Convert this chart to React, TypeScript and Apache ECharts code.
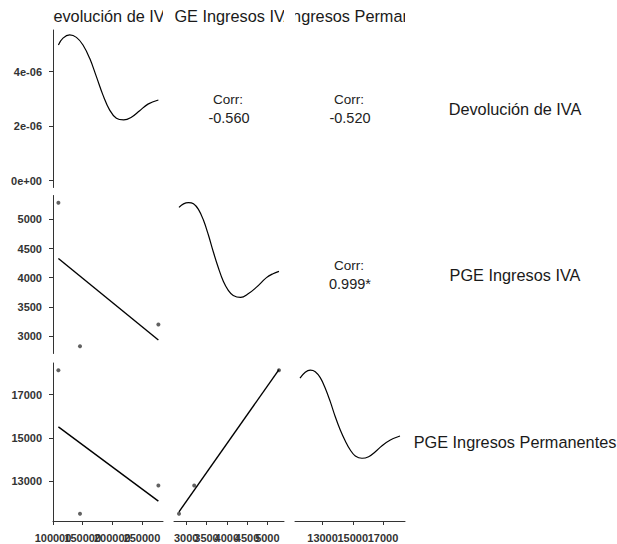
import React, { useEffect, useRef } from 'react';
import * as echarts from 'echarts';

// ---- data ----
const variables = ['Devolución de IVA', 'PGE Ingresos IVA', 'PGE Ingresos Permanentes'];
const devolucionIVA = [109100, 145500, 277600];
const ingresosIVA = [5286, 2822, 3197];
const ingresosPermanentes = [18122, 11508, 12815];

const corrLabel = 'Corr:';
const corrValues = ['-0.560', '-0.520', '0.999*'];

// density curves
const devDensityX = [109100, 116850, 128140, 139430, 150550, 161840, 173130, 184250, 195540, 206830, 219130, 232100, 246090, 260080, 277600];
const devDensityY = [4.98e-6, 5.23e-6, 5.35e-6, 5.26e-6, 4.98e-6, 4.49e-6, 3.82e-6, 3.14e-6, 2.59e-6, 2.29e-6, 2.23e-6, 2.33e-6, 2.57e-6, 2.81e-6, 2.96e-6];

const ivaDensityX = [2822, 2934, 3056, 3179, 3301, 3424, 3547, 3669, 3792, 3914, 4037, 4159, 4341, 4527, 4733, 4978, 5140, 5286];
const ivaDensityY = [3.52e-4, 3.61e-4, 3.64e-4, 3.61e-4, 3.47e-4, 3.2e-4, 2.82e-4, 2.39e-4, 1.99e-4, 1.65e-4, 1.42e-4, 1.29e-4, 1.24e-4, 1.33e-4, 1.5e-4, 1.74e-4, 1.84e-4, 1.9e-4];

const permDensityX = [11508, 11854, 12185, 12517, 12848, 13179, 13510, 13841, 14172, 14503, 14834, 15166, 15609, 16046, 16490, 16934, 17483, 18122];
const permDensityY = [1.284e-4, 1.34e-4, 1.36e-4, 1.346e-4, 1.289e-4, 1.189e-4, 1.062e-4, 0.919e-4, 0.794e-4, 0.69e-4, 0.604e-4, 0.548e-4, 0.526e-4, 0.541e-4, 0.588e-4, 0.645e-4, 0.699e-4, 0.737e-4];

// linear fits
const ivaOnDevX = [109100, 277600];
const ivaOnDevY = [4330, 2930];
const permOnDevX = [109100, 277600];
const permOnDevY = [15510, 12090];
const permOnIvaX = [2822, 5286];
const permOnIvaY = [11600, 18150];

// ticks
const devTicks = [100000, 150000, 200000, 250000];
const devTickLabels = ['100000', '150000', '200000', '250000'];
const ivaTicks = [3000, 3500, 4000, 4500, 5000];
const ivaTickLabels = ['3000', '3500', '4000', '4500', '5000'];
const permTicks = [13000, 15000, 17000];
const permTickLabels = ['13000', '15000', '17000'];
const densTicks = [0, 2e-6, 4e-6];
const densTickLabels = ['0e+00', '2e-06', '4e-06'];

// axis ranges
const devRange = [100000, 285400];
const ivaRange = [2699, 5410];
const permRange = [11177, 18453];
const devDensRange = [-2.5e-7, 5.53e-6];
const ivaDensRange = [-0.182e-4, 3.822e-4];
const permDensRange = [-0.068e-4, 1.428e-4];

// ---- layout ----
const FONT = '"Liberation Sans", Arial, Helvetica, sans-serif';
const COLS = [
  { left: 53, width: 110 },
  { left: 174, width: 110 },
  { left: 295, width: 110 },
];
const ROWS = [
  { top: 30, height: 157.5 },
  { top: 195.5, height: 158 },
  { top: 363, height: 158 },
];
const STRIP = { top: 4, height: 24 };
const RIGHT_LABEL_X = 515;
const TITLE_SIZE = 16.3;

const zip = (a: number[], b: number[]) => a.map((v, i) => [v, b[i]]);

const labelFor = (ticks: number[], labels: string[], keep: (i: number) => boolean) => (v: number) => {
  let best = -1;
  let bd = Infinity;
  ticks.forEach((t, i) => {
    const d = Math.abs(t - v);
    if (d < bd) { bd = d; best = i; }
  });
  return best >= 0 && keep(best) ? labels[best] : '';
};

const labelStyle = {
  fontSize: 11,
  fontWeight: 'bold',
  fontFamily: FONT,
  color: '#333',
  hideOverlap: false,
  showMinLabel: true,
  showMaxLabel: true,
};

function axis(
  kind: 'x' | 'y',
  gridIndex: number,
  range: number[],
  show: boolean,
  ticks?: number[],
  labels?: string[],
  part: 'all' | 'even' | 'odd' = 'all',
  drawLine = true,
) {
  const base: any = {
    type: 'value',
    gridIndex,
    min: range[0],
    max: range[1],
    splitLine: { show: false },
    position: kind === 'x' ? 'bottom' : 'left',
  };
  if (!show || !ticks || !labels) return { ...base, show: false };
  const keep = (i: number) => part === 'all' || (part === 'even' ? i % 2 === 0 : i % 2 === 1);
  const shown = ticks.filter((_, i) => keep(i));
  return {
    ...base,
    axisLine: { show: drawLine, onZero: false, lineStyle: { color: '#333', width: 1 } },
    axisTick: { show: drawLine, inside: false, length: 4, customValues: ticks, lineStyle: { color: '#333', width: 1 } },
    axisLabel: {
      show: true,
      customValues: shown,
      margin: kind === 'x' ? 11 : 11,
      ...labelStyle,
      formatter: labelFor(ticks, labels, keep),
    },
  };
}

export default function App() {
  const ref = useRef<HTMLDivElement>(null);

  useEffect(() => {
    if (!ref.current) return;
    const chart = echarts.init(ref.current, undefined, { renderer: 'svg' });

    const cell = (r: number, c: number) => ({
      left: COLS[c].left,
      top: ROWS[r].top,
      width: COLS[c].width,
      height: ROWS[r].height,
      containLabel: false,
      outerBoundsMode: 'none',
    });
    const stripCell = (c: number) => ({
      left: COLS[c].left,
      top: STRIP.top,
      width: COLS[c].width,
      height: STRIP.height,
      containLabel: false,
      outerBoundsMode: 'none',
    });

    const grid = [
      cell(0, 0), // 0 density devolucion
      cell(1, 0), // 1 iva vs dev
      cell(2, 0), // 2 perm vs dev
      cell(1, 1), // 3 density iva
      cell(2, 1), // 4 perm vs iva
      cell(2, 2), // 5 density perm
      stripCell(0), // 6
      stripCell(1), // 7
      stripCell(2), // 8
    ];

    const xAxis = [
      axis('x', 0, devRange, false),
      axis('x', 1, devRange, false),
      axis('x', 2, devRange, true, devTicks, devTickLabels, 'even'),
      axis('x', 3, ivaRange, false),
      axis('x', 4, ivaRange, true, ivaTicks, ivaTickLabels, 'even'),
      axis('x', 5, permRange, true, permTicks, permTickLabels, 'even'),
      axis('x', 6, [0, 1], false),
      axis('x', 7, [0, 1], false),
      axis('x', 8, [0, 1], false),
      // second label rows (odd ticks) so overlapping labels are all kept
      axis('x', 2, devRange, true, devTicks, devTickLabels, 'odd', false),
      axis('x', 4, ivaRange, true, ivaTicks, ivaTickLabels, 'odd', false),
      axis('x', 5, permRange, true, permTicks, permTickLabels, 'odd', false),
    ];
    const yAxis = [
      axis('y', 0, devDensRange, true, densTicks, densTickLabels),
      axis('y', 1, ivaRange, true, ivaTicks, ivaTickLabels),
      axis('y', 2, permRange, true, permTicks, permTickLabels),
      axis('y', 3, ivaDensRange, false),
      axis('y', 4, permRange, false),
      axis('y', 5, permDensRange, false),
      axis('y', 6, [0, 1], false),
      axis('y', 7, [0, 1], false),
      axis('y', 8, [0, 1], false),
    ];

    const densLine = (idx: number, xs: number[], ys: number[]) => ({
      type: 'line',
      xAxisIndex: idx,
      yAxisIndex: idx,
      data: zip(xs, ys),
      symbol: 'none',
      showSymbol: false,
      smooth: 0.4,
      silent: true,
      lineStyle: { color: '#000', width: 1.2 },
    });
    const fitLine = (idx: number, xs: number[], ys: number[]) => ({
      type: 'line',
      xAxisIndex: idx,
      yAxisIndex: idx,
      data: zip(xs, ys),
      symbol: 'none',
      showSymbol: false,
      silent: true,
      lineStyle: { color: '#000', width: 1.4 },
    });
    const points = (idx: number, xs: number[], ys: number[]) => ({
      type: 'scatter',
      xAxisIndex: idx,
      yAxisIndex: idx,
      data: zip(xs, ys),
      symbolSize: 4,
      silent: true,
      itemStyle: { color: '#3a3a3a' },
    });
    const strip = (c: number) => ({
      type: 'custom',
      xAxisIndex: 6 + c,
      yAxisIndex: 6 + c,
      coordinateSystem: 'cartesian2d',
      clip: true,
      silent: true,
      data: [[0.5, 0.5]],
      renderItem: (params: any) => {
        const cs = params.coordSys;
        return {
          type: 'text',
          x: cs.x + cs.width / 2,
          y: cs.y + cs.height / 2,
          style: {
            text: variables[c],
            fill: '#1a1a1a',
            fontSize: TITLE_SIZE,
            fontFamily: FONT,
            align: 'center',
            verticalAlign: 'middle',
          },
        };
      },
    });

    const series = [
      densLine(0, devDensityX, devDensityY),
      points(1, devolucionIVA, ingresosIVA),
      fitLine(1, ivaOnDevX, ivaOnDevY),
      points(2, devolucionIVA, ingresosPermanentes),
      fitLine(2, permOnDevX, permOnDevY),
      densLine(3, ivaDensityX, ivaDensityY),
      points(4, ingresosIVA, ingresosPermanentes),
      fitLine(4, permOnIvaX, permOnIvaY),
      densLine(5, permDensityX, permDensityY),
      strip(0),
      strip(1),
      strip(2),
    ];

    const corrCells = [
      { r: 0, c: 1, v: corrValues[0] },
      { r: 0, c: 2, v: corrValues[1] },
      { r: 1, c: 2, v: corrValues[2] },
    ];
    const graphic: any[] = [];
    corrCells.forEach(({ r, c, v }) => {
      const cx = COLS[c].left + COLS[c].width / 2;
      const cy = ROWS[r].top + ROWS[r].height / 2;
      graphic.push({
        type: 'text', x: cx - 1, y: cy - 9.3, silent: true,
        style: { text: corrLabel, fill: '#222', fontSize: 13.5, fontFamily: FONT, align: 'center', verticalAlign: 'middle' },
      });
      graphic.push({
        type: 'text', x: cx, y: cy + 9, silent: true,
        style: { text: v, fill: '#222', fontSize: 14.5, fontFamily: FONT, align: 'center', verticalAlign: 'middle' },
      });
    });
    variables.forEach((name, r) => {
      graphic.push({
        type: 'text', x: RIGHT_LABEL_X, y: ROWS[r].top + ROWS[r].height / 2, silent: true,
        style: { text: name, fill: '#1a1a1a', fontSize: TITLE_SIZE, fontFamily: FONT, align: 'center', verticalAlign: 'middle' },
      });
    });

    chart.setOption({
      animation: false,
      backgroundColor: '#fff',
      grid,
      xAxis,
      yAxis,
      series,
      graphic,
    } as any);

    return () => chart.dispose();
  }, []);

  return (
    <div
      ref={ref}
      style={{ position: 'absolute', left: 0, top: 0, width: 617, height: 544, background: '#fff' }}
    />
  );
}
